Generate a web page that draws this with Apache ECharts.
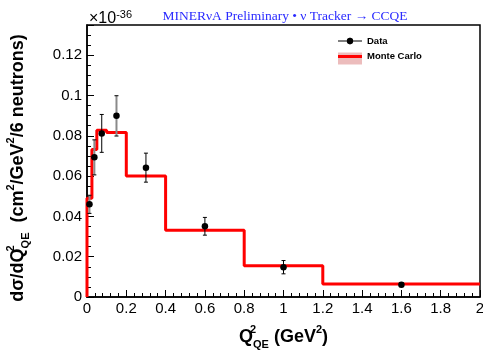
<!DOCTYPE html>
<html lang="en" style="height: 100%">
<head>
<meta charset="utf-8">
<title>MINERvA CCQE dsigma/dQ2</title>
</head>
<body style="height: 100%; margin: 0; background: #fff">
<div id="container" style="height: 100%"></div>
<script type="text/javascript" src="https://cdn.jsdelivr.net/npm/echarts/dist/echarts.min.js"></script>
<script type="text/javascript">
// Monte Carlo histogram: bin edges and contents (units of 1e-36)
var mcEdges = [0, 0.025, 0.05, 0.1, 0.2, 0.4, 0.8, 1.2, 2.0];
var mcValues = [0.049, 0.0732, 0.0827, 0.0817, 0.060, 0.0331, 0.0155, 0.0065];

// Data points with total error
var dataX = [0.0125, 0.0375, 0.075, 0.15, 0.3, 0.6, 1.0, 1.6];
var dataY = [0.046, 0.0693, 0.0812, 0.0899, 0.0642, 0.0351, 0.0148, 0.0061];
var dataErr = [0.0045, 0.0087, 0.0094, 0.0100, 0.0072, 0.0044, 0.0033, 0.0010];

var font = 'Liberation Sans';

var dom = document.getElementById('container');
var myChart = echarts.init(dom, null, { width: 483, height: 354 });

var mcLine = [[0, 0]];
for (var i = 0; i < mcValues.length; i++) {
    mcLine.push([mcEdges[i], mcValues[i]]);
}
mcLine.push([mcEdges[mcEdges.length - 1], mcValues[mcValues.length - 1]]);

var points = dataX.map(function (x, i) { return [x, dataY[i]]; });
var errs = dataX.map(function (x, i) { return [x, dataY[i], dataErr[i]]; });

// a few bars are drawn grey in the original plot
var greyBars = { 0: true, 1: true, 3: true };

function renderError(params, api) {
    var x = api.value(0), y = api.value(1), e = api.value(2);
    var top = api.coord([x, y + e]);
    var bot = api.coord([x, y - e]);
    var cap = 2;
    var st = { stroke: '#000', lineWidth: 1 };
    var barSt = greyBars[params.dataIndex] ? { stroke: '#8a8a8a', lineWidth: 2 } : st;
    return {
        type: 'group',
        children: [
            { type: 'line', shape: { x1: top[0], y1: top[1], x2: bot[0], y2: bot[1] }, style: barSt },
            { type: 'line', shape: { x1: top[0] - cap, y1: top[1], x2: top[0] + cap, y2: top[1] }, style: st },
            { type: 'line', shape: { x1: bot[0] - cap, y1: bot[1], x2: bot[0] + cap, y2: bot[1] }, style: st }
        ]
    };
}

var nameRich = {
    b: { fontFamily: font, fontWeight: 'bold', fontSize: 18, lineHeight: 26, color: '#000' },
    sup0: { fontFamily: font, fontWeight: 'bold', fontSize: 11, lineHeight: 13, verticalAlign: 'top', width: 0, color: '#000' },
    sup: { fontFamily: font, fontWeight: 'bold', fontSize: 11, lineHeight: 13, verticalAlign: 'top', color: '#000' },
    sub: { fontFamily: font, fontWeight: 'bold', fontSize: 11, lineHeight: 13, verticalAlign: 'bottom', color: '#000' }
};

option = {
    animation: false,
    title: [{
        text: 'MINERνA Preliminary • ν Tracker → CCQE',
        left: 280,
        top: 4,
        textAlign: 'center',
        textStyle: { fontFamily: 'Liberation Serif', fontWeight: 'normal', fontSize: 13.5, color: '#2a2aff' }
    }, {
        text: '{m|×10}{e|-36}',
        left: 84,
        top: 4,
        textStyle: {
            rich: {
                m: { fontFamily: font, fontWeight: 'normal', fontSize: 16, lineHeight: 20, color: '#000' },
                e: { fontFamily: font, fontWeight: 'normal', fontSize: 11, lineHeight: 14, verticalAlign: 'top', color: '#000' }
            }
        }
    }],
    legend: {
        orient: 'vertical',
        left: 338,
        top: 36,
        padding: 0,
        itemWidth: 24,
        itemHeight: 12,
        itemGap: 4.5,
        z: 5,
        textStyle: { fontFamily: font, fontWeight: 'bold', fontSize: 9.5, color: '#000' },
        data: [
            { name: 'Data', icon: 'path://M0,5.4H24V6.6H0Z M11.5,2.5H12.5V9.5H11.5Z M15.2,6A3.2,3.2 0 1 1 8.8,6A3.2,3.2 0 1 1 15.2,6Z', itemStyle: { color: '#000' } },
            { name: 'Monte Carlo', icon: 'path://M0,0H24V0.01H0Z M0,4.6H24V7.4H0Z M0,11.99H24V12H0Z', itemStyle: { color: '#ff0000' } }
        ]
    },
    graphic: [{
        type: 'rect',
        shape: { x: 338, y: 52.5, width: 24, height: 12 },
        style: { fill: '#ecbcbc' },
        z: 0
    }],
    grid: {
        left: 87,
        right: 3,
        top: 25,
        bottom: 57,
        outerBoundsMode: 'none',
        containLabel: false,
        show: true,
        borderColor: '#000',
        borderWidth: 1.5
    },
    xAxis: {
        type: 'value',
        min: 0,
        max: 2,
        interval: 0.2,
        name: '{b|Q}{sup0|2}{sub|QE}{b| (GeV}{sup|2}{b|)}',
        nameLocation: 'middle',
        nameGap: 27,
        nameTextStyle: { rich: nameRich },
        axisLine: { lineStyle: { color: '#000', width: 1.5 } },
        axisTick: { inside: true, length: 7, lineStyle: { color: '#000' } },
        minorTick: { show: true, splitNumber: 5, length: 4, lineStyle: { color: '#000' } },
        splitLine: { show: false },
        axisLabel: {
            margin: 4,
            fontFamily: font,
            fontSize: 15,
            color: '#000',
            formatter: function (v) { return String(+v.toFixed(1)); }
        }
    },
    yAxis: {
        type: 'value',
        min: 0,
        max: 0.135,
        interval: 0.02,
        name: '{b|dσ/dQ}{sup0|2}{sub|QE}{b|  (cm}{sup|2}{b|/GeV}{sup|2}{b|/6 neutrons)}',
        nameLocation: 'middle',
        nameRotate: 90,
        nameGap: 56,
        nameTextStyle: { rich: nameRich, padding: [0, 14, 0, 0] },
        axisLine: { show: true, lineStyle: { color: '#000', width: 1.5 } },
        axisTick: { show: true, inside: true, length: 7, lineStyle: { color: '#000' } },
        minorTick: { show: true, splitNumber: 4, length: 4, lineStyle: { color: '#000' } },
        splitLine: { show: false },
        axisLabel: {
            margin: 5,
            fontFamily: font,
            fontSize: 15,
            color: '#000',
            showMaxLabel: false,
            formatter: function (v) { return String(+v.toFixed(2)); }
        }
    },
    series: [{
        name: 'Monte Carlo',
        type: 'line',
        step: 'end',
        data: mcLine,
        symbol: 'none',
        clip: false,
        lineStyle: { color: '#ff0000', width: 3 },
        itemStyle: { color: '#ff0000' },
        z: 2
    }, {
        name: 'Data err',
        type: 'custom',
        renderItem: renderError,
        data: errs,
        z: 3
    }, {
        name: 'Data',
        type: 'scatter',
        data: points,
        symbol: 'circle',
        symbolSize: 6.5,
        itemStyle: { color: '#000', opacity: 1 },
        z: 4
    }]
};

if (option && typeof option === 'object') {
    myChart.setOption(option);
}

window.addEventListener('resize', myChart.resize);
</script>
</body>
</html>
